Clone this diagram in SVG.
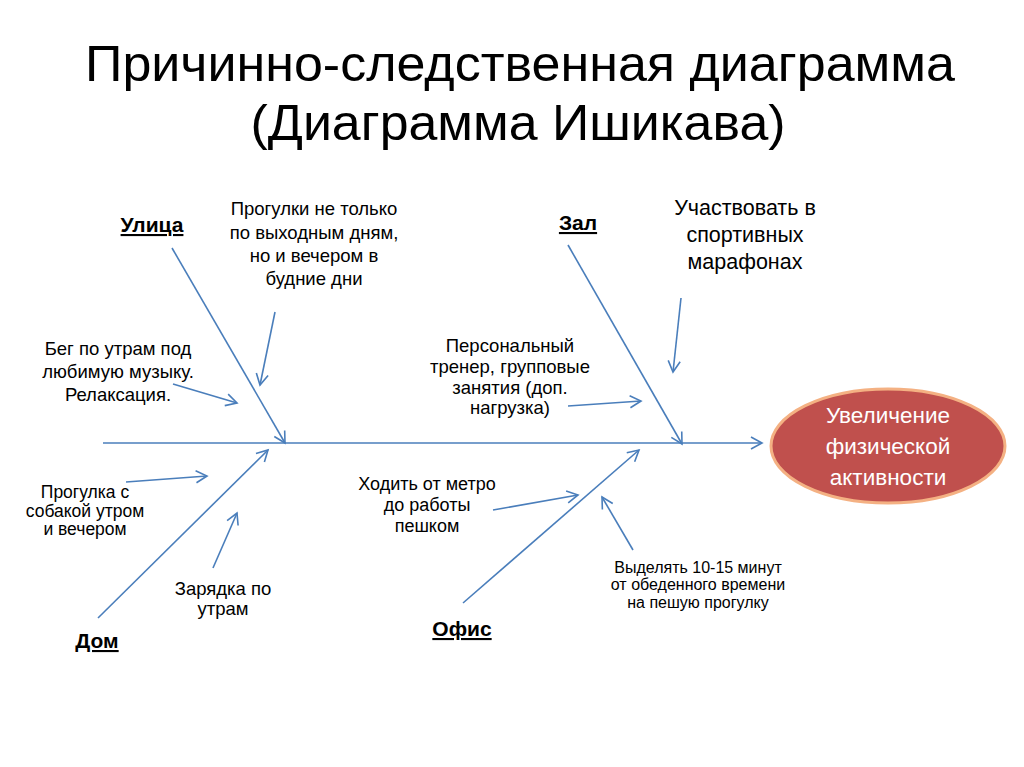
<svg xmlns="http://www.w3.org/2000/svg" width="1024" height="767" viewBox="0 0 1024 767">
<style>
.t{font-family:"Liberation Sans",Arial,sans-serif;fill:#000;text-anchor:middle}
.ti{font-size:50px}
.s{font-size:18.5px}
.m{font-size:21.5px}
.h{font-size:21px;font-weight:bold;text-decoration:underline}
.ln{stroke:#4a7ebb;stroke-width:1.6;fill:none}
.w{font-family:"Liberation Sans",Arial,sans-serif;fill:#fff;text-anchor:middle;font-size:22.5px}
</style>
<defs>
<marker id="ah" markerUnits="userSpaceOnUse" markerWidth="16" markerHeight="16" refX="13" refY="7" orient="auto" viewBox="0 0 16 14">
<path d="M2,1 L13,7 L2,13" fill="none" stroke="#4a7ebb" stroke-width="1.6"/>
</marker>
</defs>
<rect width="1024" height="767" fill="#fff"/>
<g id="title">
<text class="t ti" x="520" y="81" textLength="870" lengthAdjust="spacingAndGlyphs">Причинно-следственная диаграмма</text>
<text class="t ti" x="518" y="140" textLength="535" lengthAdjust="spacingAndGlyphs">(Диаграмма Ишикава)</text>
</g>
<g id="connectors">
<line class="ln" x1="103" y1="443" x2="762" y2="443" marker-end="url(#ah)"/>
<line class="ln" x1="172" y1="248" x2="285" y2="443" marker-end="url(#ah)"/>
<line class="ln" x1="568" y1="245" x2="682" y2="444" marker-end="url(#ah)"/>
<line class="ln" x1="98" y1="618" x2="268" y2="450" marker-end="url(#ah)"/>
<line class="ln" x1="463" y1="603" x2="639" y2="450" marker-end="url(#ah)"/>
<line class="ln" x1="275" y1="312" x2="260" y2="385" marker-end="url(#ah)"/>
<line class="ln" x1="173" y1="384" x2="237" y2="403" marker-end="url(#ah)"/>
<line class="ln" x1="681" y1="298" x2="673" y2="372" marker-end="url(#ah)"/>
<line class="ln" x1="568" y1="406" x2="641" y2="401" marker-end="url(#ah)"/>
<line class="ln" x1="126" y1="482" x2="207" y2="476" marker-end="url(#ah)"/>
<line class="ln" x1="213" y1="568" x2="237" y2="513" marker-end="url(#ah)"/>
<line class="ln" x1="493" y1="510" x2="578" y2="495" marker-end="url(#ah)"/>
<line class="ln" x1="633" y1="550" x2="602" y2="497" marker-end="url(#ah)"/>
</g>
<g id="effect">
<ellipse cx="888" cy="446" rx="117" ry="57" fill="#c0504d" stroke="#f4b183" stroke-width="3"/>
<text class="w" x="888" y="423">Увеличение</text>
<text class="w" x="888" y="454">физической</text>
<text class="w" x="888" y="485">активности</text>
</g>
<g id="ulica"><text class="t h" x="152" y="232">Улица</text></g>
<g id="zal"><text class="t h" x="578" y="230">Зал</text></g>
<g id="dom"><text class="t h" x="97" y="648">Дом</text></g>
<g id="ofis"><text class="t h" x="462" y="636">Офис</text></g>
<g id="c1"><text class="t s"><tspan x="314" y="215">Прогулки не только</tspan><tspan x="314" y="239">по выходным дням,</tspan><tspan x="314" y="262">но и вечером в</tspan><tspan x="314" y="285">будние дни</tspan></text></g>
<g id="c2"><text class="t s"><tspan x="118" y="355">Бег по утрам под</tspan><tspan x="118" y="378">любимую музыку.</tspan><tspan x="118" y="401">Релаксация.</tspan></text></g>
<g id="c3"><text class="t m"><tspan x="745" y="215">Участвовать в</tspan><tspan x="745" y="242">спортивных</tspan><tspan x="745" y="269">марафонах</tspan></text></g>
<g id="c4"><text class="t s"><tspan x="510" y="352">Персональный</tspan><tspan x="510" y="373">тренер, групповые</tspan><tspan x="510" y="394">занятия (доп.</tspan><tspan x="510" y="414">нагрузка)</tspan></text></g>
<g id="c5"><text class="t" style="font-size:17.5px"><tspan x="85" y="498">Прогулка с</tspan><tspan x="85" y="517">собакой утром</tspan><tspan x="85" y="535">и вечером</tspan></text></g>
<g id="c6"><text class="t s"><tspan x="223" y="595">Зарядка по</tspan><tspan x="223" y="615">утрам</tspan></text></g>
<g id="c7"><text class="t" style="font-size:18px"><tspan x="427" y="490">Ходить от метро</tspan><tspan x="427" y="511">до работы</tspan><tspan x="427" y="532">пешком</tspan></text></g>
<g id="c8"><text class="t" style="font-size:16px"><tspan x="698" y="573">Выделять 10-15 минут</tspan><tspan x="698" y="590">от обеденного времени</tspan><tspan x="698" y="608">на пешую прогулку</tspan></text></g>
</svg>
